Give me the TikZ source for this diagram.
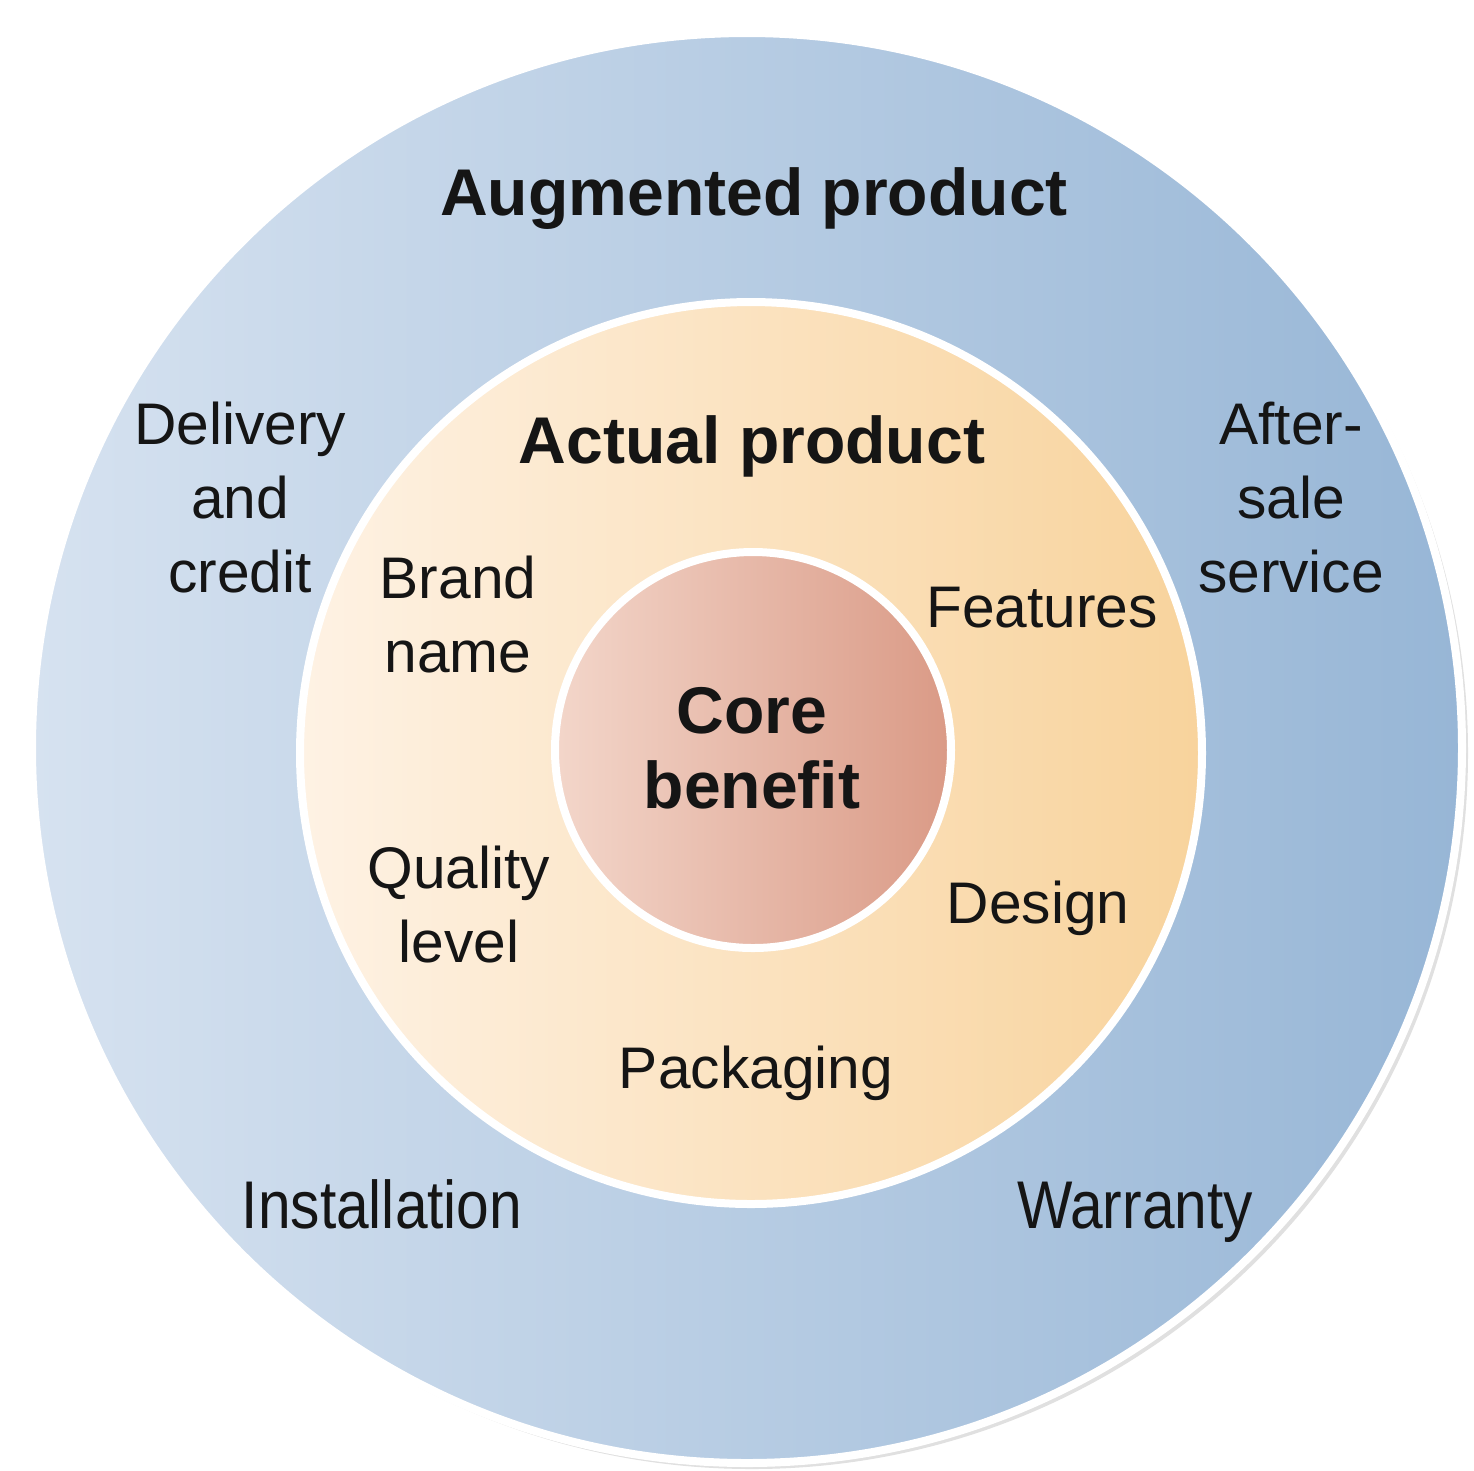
\documentclass[tikz,border=0pt]{standalone}
\usepackage{fontspec}
\usepackage{graphicx}
\setmainfont{Liberation Sans}
\definecolor{augL}{HTML}{D6E2F0}
\definecolor{augR}{HTML}{97B6D6}
\definecolor{actL}{HTML}{FEF2E4}
\definecolor{actR}{HTML}{F8D39C}
\definecolor{corL}{HTML}{F3D6CA}
\definecolor{corR}{HTML}{DA9A86}
\definecolor{ink}{HTML}{151515}
\tikzset{
  ring/.style={circle, inner sep=0pt, draw=white, line width=0.8mm},
  lbl/.style={text=ink, align=center, anchor=base, inner sep=0pt,
    font=\fontsize{16.7pt}{21pt}\selectfont},
  title/.style={text=ink, align=center, anchor=base, inner sep=0pt,
    font=\fontsize{18.8pt}{21.3pt}\selectfont\bfseries},
}
\begin{document}
\begin{tikzpicture}[x=0.1mm, y=-0.1mm]
\useasboundingbox (0,0) rectangle (1474,1470);
\fill[white] (0,0) rectangle (1474,1470);
% soft shadow
\fill[black!12] (752,753) circle (716);
\node[ring, minimum size=143mm, left color=augL, right color=augR] (aug) at (747,748) {};
\node[ring, minimum size=90.2mm, left color=actL, right color=actR] (act) at (751,753) {};
\node[ring, minimum size=39.6mm, left color=corL, right color=corR] (core) at (753,750) {};

% anchor=base of a multi-line node is the baseline of its last line
\node[title] (augt) at (754,215) {Augmented product};
\node[title] (actt) at (752,463) {Actual product};
\node[title] (coret) at (752,808) {Core\\benefit};

\node[lbl] (deliv) at (240,592) {Delivery\\and\\credit};
\node[lbl] (after) at (1291,592) {After-\\sale\\service};
\node[lbl] (brand) at (458,672) {Brand\\name};
\node[lbl] (feat) at (1042,627) {Features};
\node[lbl] (qual) at (459,962) {Quality\\level};
\node[lbl] (design) at (1038,923) {Design};
\node[lbl] (pack) at (756,1088) {Packaging};
\node[lbl] (inst) at (382,1228) {\scalebox{1}[1.15]{Installation}};
\node[lbl] (warr) at (1135,1228) {\scalebox{1}[1.15]{Warranty}};
\end{tikzpicture}
\end{document}
